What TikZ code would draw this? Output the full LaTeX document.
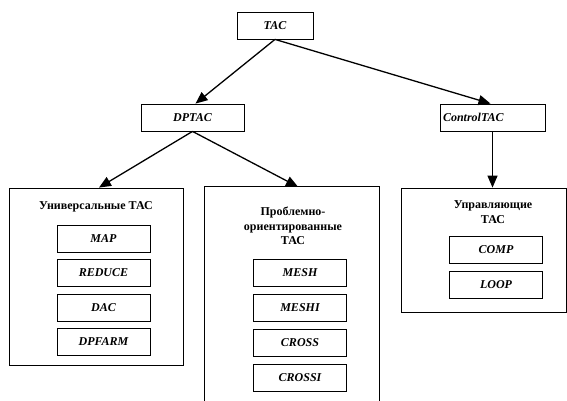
\documentclass[tikz,border=0pt]{standalone}
\usepackage{fontspec}
\setmainfont{Liberation Serif}
\usetikzlibrary{arrows.meta}
\begin{document}
\begin{tikzpicture}[x=1pt,y=-1pt,
  box/.style={draw, line width=0.8pt, inner sep=0pt, minimum height=27pt,
    font=\fontsize{12}{13}\selectfont\bfseries\itshape},
  inner/.style={box, minimum width=93pt},
  frame/.style={draw, line width=0.8pt, inner sep=0pt},
  title/.style={font=\fontsize{12}{14.5}\selectfont\bfseries, align=center, inner sep=0pt},
  arr/.style={line width=1.3pt, -{Triangle[length=12pt,width=10pt]}}]
\useasboundingbox (0,0) rectangle (567,401);
% top level
\node[box, minimum width=76pt] (tac) at (275,25.5) {TAC};
\node[box, minimum width=103pt] (dptac) at (192.5,117.5) {DPTAC};
\node[box, minimum width=105pt, text width=99pt, align=left] (ctrl) at (492.5,117.5) {ControlTAC};
% frames
\node[frame, minimum width=174pt, minimum height=177pt] (left) at (96,276.5) {};
\node[inner sep=0pt, minimum width=174pt, minimum height=214pt] (mid) at (292,294) {};
\draw[line width=0.8pt] (mid.south west) -- (mid.north west) -- (mid.north east) -- (mid.south east);
\node[frame, minimum width=165pt, minimum height=124pt] (right) at (483.5,250) {};
% titles
\node[title] (ltitle) at (96,207) {Универсальные ТАС};
\node[title] (mtitle) at (293,226) {Проблемно-\\ориентированные\\ТАС};
\node[title, font=\fontsize{12}{15.5}\selectfont\bfseries] (rtitle) at (493,212) {Управляющие\\ТАС};
% inner boxes left
\node[inner] (map) at (103.5,238.5) {MAP};
\node[inner] (reduce) at (103.5,273) {REDUCE};
\node[inner] (dac) at (103.5,308) {DAC};
\node[inner] (dpfarm) at (103.5,342) {DPFARM};
% inner boxes middle
\node[inner] (mesh) at (300,273) {MESH};
\node[inner] (meshi) at (300,308) {MESHI};
\node[inner] (cross) at (300,343) {CROSS};
\node[inner] (crossi) at (300,377.5) {CROSSI};
% inner boxes right
\node[inner] (comp) at (496,249.5) {COMP};
\node[inner] (loop) at (496,284.5) {LOOP};
% connectors
\draw[arr] (tac.south) -- ([xshift=3pt]dptac.north);
\draw[arr] (tac.south) -- ([xshift=-2pt]ctrl.north);
\draw[arr] (dptac.south) -- ([xshift=3pt]left.north);
\draw[arr] (dptac.south) -- ([xshift=6pt]mid.north);
\draw[arr] (ctrl.south) -- (right.north -| ctrl.south);
\end{tikzpicture}
\end{document}
